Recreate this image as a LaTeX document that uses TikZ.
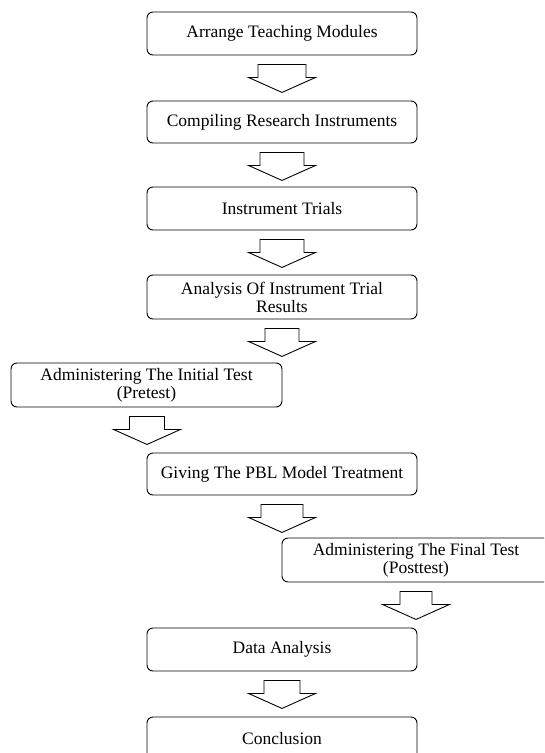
\documentclass[tikz,border=0pt]{standalone}
\usepackage{fontspec}
\setmainfont{Liberation Serif}
\usetikzlibrary{calc}
\tikzset{
  stepbox/.style={draw=black, line width=0.9pt, rounded corners=6pt, fill=white,
    minimum width=270pt, inner sep=0pt, align=center,
    font=\fontsize{17.5pt}{18pt}\selectfont},
  blockarr/.style={draw=black, line width=0.9pt, fill=white, line join=miter}
}
% #1 source node, #2 x offset, #3 shaft half-width
\newcommand\barrow[3]{%
  \draw[blockarr] ($(#1.south)+(#2-#3,9)$) -- ++(0,13) -- ++(#3-33.5,0)
    -- ++(33.5,15) -- ++(33.5,-15) -- ++(#3-33.5,0) -- ++(0,-13) -- cycle;}
\begin{document}
\begin{tikzpicture}[x=1pt,y=-1pt]
\useasboundingbox (0,0) rectangle (544,753);
\fill[white] (0,0) rectangle (544,753);
\clip (0,0) rectangle (544,753);
\node[stepbox, minimum height=43pt] (b1) at (282,33.5) {Arrange Teaching Modules};
\node[stepbox, minimum height=42pt] (b2) at (282,122) {Compiling Research Instruments};
\node[stepbox, minimum height=43pt] (b3) at (282,208.5) {Instrument Trials};
\node[stepbox, minimum height=44pt] (b4) at (282,297) {Analysis Of Instrument Trial\\Results};
\node[stepbox, minimum height=44pt, minimum width=271pt] (b5) at (146.5,385) {Administering The Initial Test\\(Pretest)};
\node[stepbox, minimum height=42pt] (b6) at (282,474) {Giving The PBL Model Treatment};
\node[stepbox, minimum height=44pt, minimum width=268pt] (b7) at (416,560) {Administering The Final Test\\(Posttest)};
\node[stepbox, minimum height=43pt] (b8) at (282,649.5) {Data Analysis};
\node[stepbox, minimum height=46pt, text depth=0pt] (b9) at (282,740) {};
\node[font=\fontsize{17.5pt}{18pt}\selectfont, inner sep=0pt] (t9) at (282,738.5) {Conclusion};
\barrow{b1}{0}{24}
\barrow{b2}{0}{22}
\barrow{b3}{0}{22}
\barrow{b4}{0}{17}
\barrow{b5}{0.5}{17.5}
\barrow{b6}{0}{21}
\barrow{b7}{0}{16}
\barrow{b8}{0}{18}
\end{tikzpicture}
\end{document}
